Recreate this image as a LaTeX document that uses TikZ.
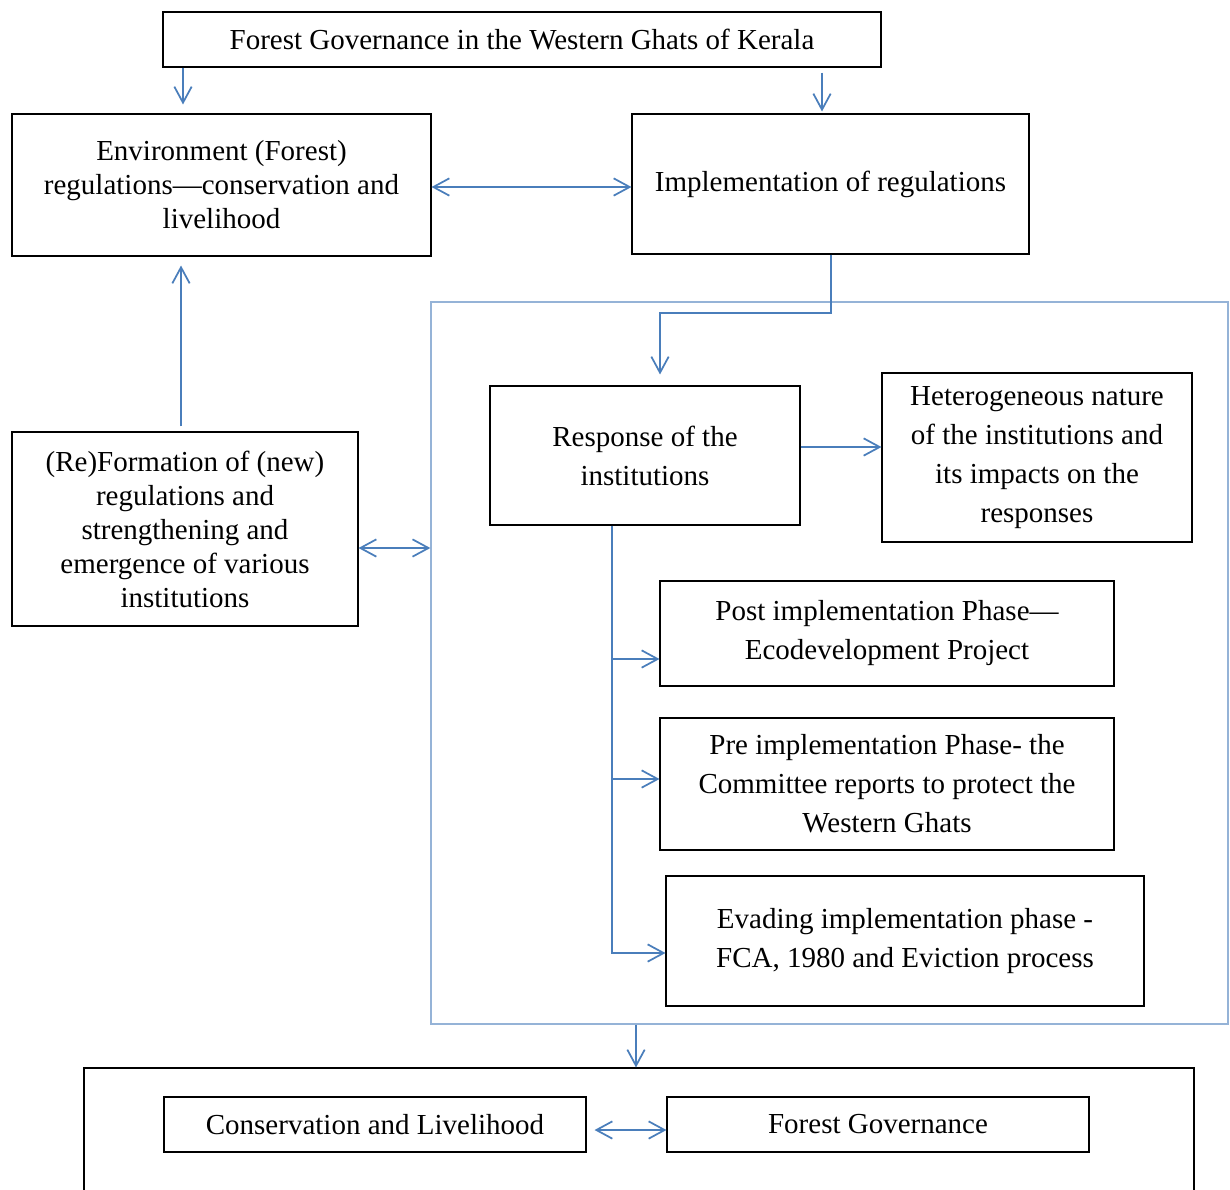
\documentclass[tikz,border=0pt]{standalone}
\usepackage{fontspec}
\setmainfont{Liberation Serif}
\usetikzlibrary{arrows.meta,calc}
\definecolor{arrblue}{HTML}{4A7EBB}
\definecolor{contblue}{HTML}{95B3D7}
\tikzset{
  box/.style={draw=black, line width=0.8pt, inner sep=0pt, align=center, text=black,
    font=\fontsize{21.75}{25.5}\selectfont},
  wide/.style={font=\fontsize{21.75}{29.25}\selectfont},
  arr/.style={draw=arrblue, line width=1.3pt, -{Straight Barb[length=12pt,width=13pt,line width=1.3pt]}},
  darr/.style={draw=arrblue, line width=1.3pt, {Straight Barb[length=12pt,width=13pt,line width=1.3pt]}-{Straight Barb[length=12pt,width=13pt,line width=1.3pt]}},
  cont/.style={draw=contblue, line width=1pt, inner sep=0pt}
}
\begin{document}
\begin{tikzpicture}[x=0.75pt,y=-0.75pt]
\useasboundingbox[fill=white] (0,0) rectangle (1230,1189);
% nodes
\node[box, minimum width=538.5pt, minimum height=41.25pt] (top) at (522,39.5) {Forest Governance in the Western Ghats of Kerala};
\node[box, minimum width=314.25pt, minimum height=106.5pt] (env) at (221.5,185) {Environment (Forest)\\regulations---conservation and\\livelihood};
\node[box, minimum width=297.75pt, minimum height=105pt] (impl) at (830.5,184) {Implementation of regulations};
\node[cont, minimum width=597.75pt, minimum height=541.5pt] (cont) at (829.5,663) {};
\node[box, wide, minimum width=232.5pt, minimum height=104.25pt] (resp) at (645,455.5) {Response of the\\institutions};
\node[box, wide, minimum width=232.5pt, minimum height=126.75pt] (het) at (1037,457.5) {Heterogeneous nature\\of the institutions and\\its impacts on the\\responses};
\node[box, wide, minimum width=340.5pt, minimum height=78.75pt] (post) at (887,633.5) {Post implementation Phase---\\Ecodevelopment Project};
\node[box, wide, minimum width=340.5pt, minimum height=99pt] (pre) at (887,784) {Pre implementation Phase- the\\Committee reports to protect the\\Western Ghats};
\node[box, wide, minimum width=358.5pt, minimum height=97.5pt] (eva) at (905,941) {Evading implementation phase -\\FCA, 1980 and Eviction process};
\node[box, minimum width=259.5pt, minimum height=145.5pt] (ref) at (185,529) {(Re)Formation of (new)\\regulations and\\strengthening and\\emergence of various\\institutions};
\node[box, minimum width=832.5pt, minimum height=108pt] (bot) at (639,1140) {};
\node[box, minimum width=316.5pt, minimum height=41.25pt] (cons) at (375,1124.5) {Conservation and Livelihood};
\node[box, minimum width=316.5pt, minimum height=41.25pt] (fg) at (878,1124.5) {Forest Governance};
% connectors
\draw[arr, shorten >=6.75pt] (top.south -| 183,0) -- (env.north -| 183,0);
\draw[arr, shorten <=3.75pt, shorten >=1.5pt] (top.south -| 822,0) -- (impl.north -| 822,0);
\draw[darr] (env.east |- 0,187) -- (impl.west |- 0,187);
\draw[arr, shorten <=3.75pt, shorten >=6.75pt] (ref.north -| 181,0) -- (env.south -| 181,0);
\draw[darr] (ref.east |- 0,548) -- (cont.west |- 0,548);
\draw[arr, shorten >=8.25pt] (impl.south -| 831,0) -- (831,313) -- (660,313) -- (resp.north -| 660,0);
\draw[arr] (resp.east |- 0,447) -- (het.west |- 0,447);
\draw[arr] (resp.south -| 612,0) |- (eva.west |- 0,953);
\draw[arr] (612,659) -- (post.west |- 0,659);
\draw[arr] (612,779) -- (pre.west |- 0,779);
\draw[arr] (cont.south -| 636,0) -- (bot.north -| 636,0);
\draw[darr, shorten <=6pt] (cons.east |- 0,1130) -- (fg.west |- 0,1130);
\end{tikzpicture}
\end{document}
